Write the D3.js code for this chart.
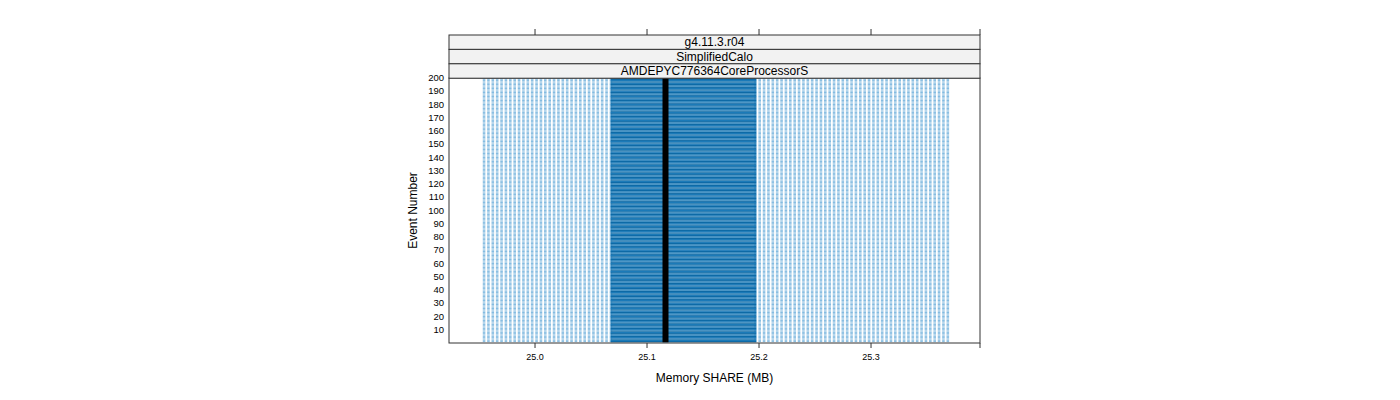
<!DOCTYPE html><html><head><meta charset="utf-8"><script src="https://cdn.jsdelivr.net/npm/d3@7"></script>
<style>body{margin:0;background:#fff}text{font-family:"Liberation Sans",Arial,sans-serif}</style></head><body><svg id="c" width="1400" height="400"></svg><script>
const strips=["g4.11.3.r04","SimplifiedCalo","AMDEPYC776364CoreProcessorS"];
const events=d3.range(1,201);
const pageMB=4/1024;
const shareMin=24.9545, shareMax=25.3696; // sparse spread of SHARE values
const denseLo=25.0687, denseHi=25.1964;   // dense band
const median=25.1165;
const xTicks=[25.0,25.1,25.2,25.3];
const yTicks=d3.range(10,201,10);
const shares=d3.range(Math.round((shareMax-shareMin)/pageMB)+1).map(i=>shareMin+i*pageMB);
const svg=d3.select("#c");
const L=449,R=980,T=78,B=343;
const x=d3.scaleLinear().domain([24.9232,25.3973]).range([L,R]);
const y=d3.scaleLinear().domain([0,200]).range([B,T]);
const g=svg.append("g");
// sparse points
const sparse=shares.filter(s=>s<denseLo||s>denseHi);
const rows=g.selectAll("g.r").data(events).join("g");
rows.selectAll("rect").data(e=>sparse.map(s=>({e,s}))).join("rect")
 .attr("x",d=>x(d.s)-1.3).attr("y",d=>y(d.e)-0.5).attr("width",2.6).attr("height",0.9)
 .attr("fill","#4a9bd1").attr("opacity",0.75);
// dense band
g.selectAll("rect.d").data(events).join("rect").attr("class","d")
 .attr("x",x(denseLo)-1.3).attr("width",x(denseHi)-x(denseLo)+2.6)
 .attr("y",d=>y(d)-0.66).attr("height",1.33).attr("fill",(d,i)=>i%2?"#1b7ab8":"#0d6aa6");
// median
g.append("rect").attr("x",x(median)-3).attr("width",6).attr("y",y(200)).attr("height",y(0.5)-y(200)).attr("fill","#000");
// frame
svg.append("rect").attr("x",L).attr("y",T).attr("width",R-L).attr("height",B-T).attr("fill","none").attr("stroke","#333");
// strips
strips.forEach((s,i)=>{const yy=35+i*14.4;
 svg.append("rect").attr("x",L).attr("y",yy).attr("width",R-L).attr("height",14.4).attr("fill","#f2f2f2").attr("stroke","#333");
 svg.append("text").attr("x",(L+R)/2).attr("y",yy+11.3).attr("text-anchor","middle").attr("font-size",12).text(s);});
// x axis
const xa=svg.append("g");
xTicks.forEach(t=>{xa.append("line").attr("x1",x(t)).attr("x2",x(t)).attr("y1",B).attr("y2",B+5).attr("stroke","#333");
 xa.append("line").attr("x1",x(t)).attr("x2",x(t)).attr("y1",35).attr("y2",29).attr("stroke","#333");
 xa.append("text").attr("x",x(t)).attr("y",B+17).attr("text-anchor","middle").attr("font-size",9).text(t.toFixed(1));});
xa.append("line").attr("x1",R).attr("x2",R).attr("y1",B).attr("y2",B+5).attr("stroke","#333");
xa.append("line").attr("x1",R).attr("x2",R).attr("y1",35).attr("y2",29).attr("stroke","#333");
yTicks.forEach(t=>{svg.append("text").attr("x",L-5).attr("y",y(t)+3).attr("text-anchor","end").attr("font-size",9.5).text(t);});
svg.append("text").attr("x",(L+R)/2).attr("y",382).attr("text-anchor","middle").attr("font-size",12).text("Memory SHARE (MB)");
svg.append("text").attr("transform",`translate(417,${(T+B)/2}) rotate(-90)`).attr("text-anchor","middle").attr("font-size",12).text("Event Number");
</script></body></html>
